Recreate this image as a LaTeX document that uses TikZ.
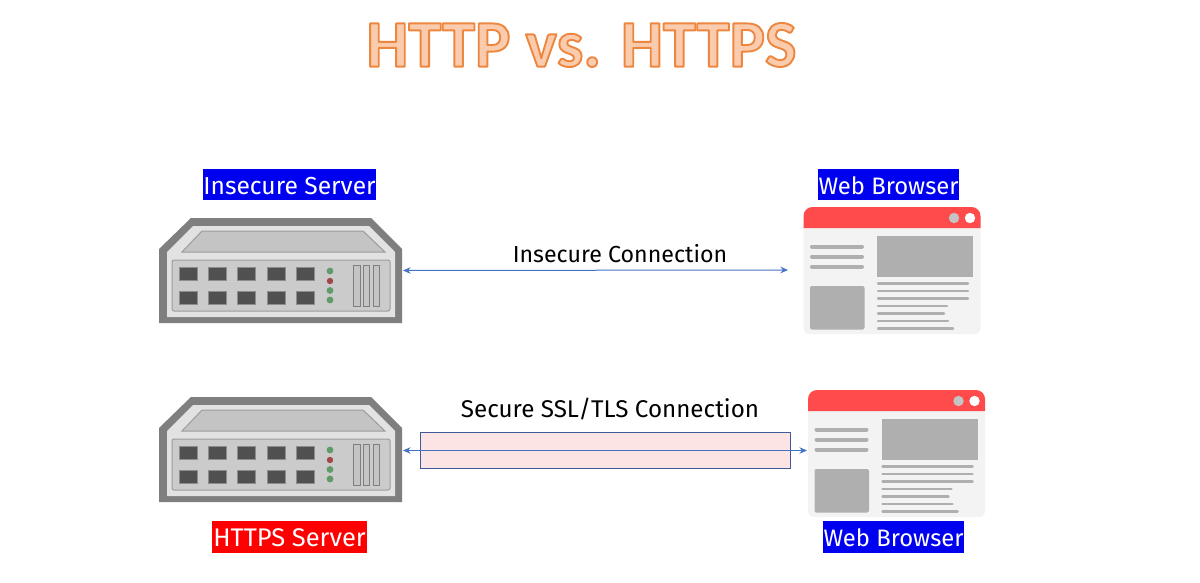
\documentclass[tikz,border=0pt]{standalone}
\usepackage{fontspec}
\setmainfont{Fira Sans}
\newfontfamily\titlefont{Carlito}[BoldFont={Carlito Bold}]
\definecolor{srvouter}{HTML}{7F7F7F}
\definecolor{srvinner}{HTML}{E2E2E2}
\definecolor{srvtop}{HTML}{C4C4C4}
\definecolor{srvedge}{HTML}{9C9C9C}
\definecolor{srvpanel}{HTML}{CBCBCB}
\definecolor{srvport}{HTML}{505050}
\definecolor{ledgreen}{HTML}{5F9A68}
\definecolor{ledred}{HTML}{A04848}
\definecolor{brred}{HTML}{FF4B4B}
\definecolor{brbody}{HTML}{F3F3F3}
\definecolor{brgray}{HTML}{AFAFAF}
\definecolor{conn}{HTML}{4472C4}
\definecolor{pinkfill}{HTML}{FDE4E4}
\definecolor{boxedge}{HTML}{3F5A9A}
\definecolor{tagblue}{HTML}{0000F0}
\definecolor{tagred}{HTML}{FF0000}
\usetikzlibrary{arrows.meta}
\tikzset{
  tag/.style={inner sep=0pt,minimum height=31.5pt,text=white,text height=19.5pt,text depth=0pt},
  plainlabel/.style={inner sep=0pt,text=black},
  anchorbox/.style={inner sep=0pt,outer sep=0pt},
  link/.style={conn,line width=1pt,{Stealth[length=7.5pt,width=6.5pt]}-{Stealth[length=7.5pt,width=6.5pt]}},
  brline/.style={brgray,line cap=round},
  serverpic/.pic={
    \fill[srvouter] (159,323)--(159,249)--(191,218)--(371,218)--(402,249)--(402,323)--cycle;
    \fill[srvinner] (167,317)--(167,252)--(193,226)--(369,226)--(395,252)--(395,317)--cycle;
    \draw[srvedge,fill=srvtop,line width=1pt] (182,252)--(202,231)--(363,231)--(385,252)--cycle;
    \draw[srvedge,fill=srvpanel,line width=1pt,rounded corners=2pt] (172,260) rectangle (390,311);
    \foreach \px in {179,208.4,237.8,267.2,296.6}{
      \draw[srvedge!80!srvport,fill=srvport,line width=1pt] (\px,267) rectangle ++(18,13);
      \draw[srvedge!80!srvport,fill=srvport,line width=1pt] (\px,291) rectangle ++(18,13);
    }
    \fill[ledgreen] (330,271) circle (3.4);
    \fill[ledred] (330,281) circle (3.2);
    \fill[ledgreen] (330,290.500) circle (3.4);
    \fill[ledgreen] (330,300) circle (3.4);
    \foreach \px in {353.5,363.3,373}{
      \draw[srvouter,fill=srvtop,line width=1pt] (\px,265) rectangle ++(6.5,41);
    }
  },
  browserpic/.pic={
    \fill[brbody,rounded corners=6pt] (803.5,220) rectangle (980.5,334);
    \fill[brred] (803.5,228)--(803.5,216) arc[start angle=180,end angle=270,radius=9]
      --(971.5,207) arc[start angle=270,end angle=360,radius=9]--(980.5,228)--cycle;
    \fill[srvtop] (954,218) circle (5.2);
    \fill[white] (970,218) circle (5.2);
    \fill[brgray] (877,236) rectangle (973,277);
    \fill[brgray,rounded corners=2pt] (810,286) rectangle (864.500,329.500);
    \foreach \ly in {246.5,256.5,266.5}{\draw[brline,line width=4pt] (812,\ly)--(862,\ly);}
    \foreach \ly/\lx in {283.5/968,291/968,298.5/968,306/947,313.5/944,321/948,328.5/953}{
      \draw[brline,line width=2.4pt] (878,\ly)--(\lx,\ly);}
  }
}
\newcommand{\lblsize}[1]{\fontsize{#1}{#1}\selectfont}
\begin{document}
\begin{tikzpicture}[x=1pt,y=-1pt]
\useasboundingbox (0,0) rectangle (1200,583);
\fill[white] (0,0) rectangle (1200,583);

\node[inner sep=0pt] (title) at (581.5,45) {\special{pdf:code q 1 j 2 Tr 1.9 w 0.93 0.53 0.25 RG 0.98 0.80 0.68 rg}\titlefont\bfseries\fontsize{66.5}{70}\selectfont HTTP vs. HTTPS\special{pdf:code Q}};

\pic at (0,0) {serverpic};
\pic at (0,179) {serverpic};
\pic at (0,0) {browserpic};
\pic at (4.5,183) {browserpic};

\node[anchorbox,minimum width=243pt,minimum height=105pt] (srvA) at (280.5,270.5) {};
\node[anchorbox,minimum width=243pt,minimum height=105pt] (srvB) at (280.5,449.5) {};
\node[anchorbox,minimum width=177pt,minimum height=127pt] (brA) at (892,270.5) {};
\node[anchorbox,minimum width=177pt,minimum height=127pt] (brB) at (896.5,453.5) {};

\node[tag,fill=tagblue,minimum width=173pt,font=\lblsize{24.6}] (tagA) at (289.5,184.7) {Insecure Server};
\node[tag,fill=tagblue,minimum width=141pt,font=\lblsize{23.8}] (tagB) at (888.5,184.7) {Web Browser};
\node[tag,fill=tagred,minimum width=155pt,font=\lblsize{25.5}] (tagC) at (289.5,537) {HTTPS Server};
\node[tag,fill=tagblue,minimum width=141pt,font=\lblsize{23.8}] (tagD) at (893.5,537) {Web Browser};

\node[draw=boxedge,fill=pinkfill,line width=0.8pt,inner sep=0pt,minimum width=370pt,minimum height=35.5pt] (tunnel) at (605.5,450.2) {};

\coordinate (aR) at (788,270);
\coordinate (bR) at (807,450.5);
\draw[link] ([xshift=1pt]srvA.east) -- (aR);
\draw[link] ([xshift=1pt,yshift=-1pt]srvB.east) -- (bR);

\node[plainlabel,font=\lblsize{23.2}] (labA) at (620,254) {Insecure Connection};
\node[plainlabel,font=\lblsize{24.2}] (labB) at (610,409) {Secure SSL/TLS Connection};
\end{tikzpicture}
\end{document}
